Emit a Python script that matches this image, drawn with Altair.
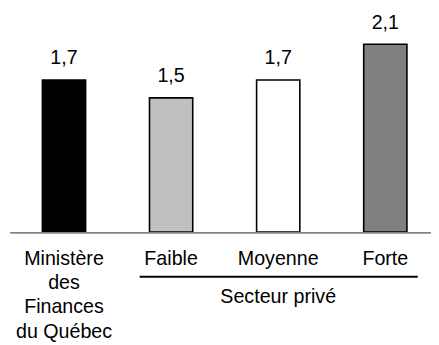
import altair as alt
import pandas as pd

categories = ["MFQ", "Faible", "Moyenne", "Forte"]
cat_labels = ["Ministère\ndes\nFinances\ndu Québec", "Faible", "Moyenne", "Forte"]
values = [1.7, 1.5, 1.7, 2.1]
value_labels = ["1,7", "1,5", "1,7", "2,1"]
colors = ["#000000", "#c0c0c0", "#ffffff", "#808080"]
group_title = "Secteur privé"
group_start = "Faible"
group_end = "Forte"
group_center = "Moyenne"

FONT = "Liberation Sans"
FS = 20

df = pd.DataFrame({"cat": categories, "value": values, "vlabel": value_labels, "clabel": cat_labels})
grp = pd.DataFrame({"start": [group_start], "end": [group_end], "mid": [group_center], "title": [group_title]})

xscale = alt.Scale(domain=categories, range=[0, 436], paddingInner=0, paddingOuter=0)
yscale = alt.Scale(domain=[0, 220 / 91], nice=False, zero=True)

base = alt.Chart(df)

bars = base.mark_bar(width=44, stroke="black", strokeWidth=1.6).encode(
    x=alt.X("cat:N", scale=xscale, axis=None, sort=categories),
    y=alt.Y("value:Q", scale=yscale, axis=None),
    fill=alt.Fill("cat:N", scale=alt.Scale(domain=categories, range=colors), legend=None),
)

vtext = base.mark_text(dy=-16, baseline="alphabetic", fontSize=FS, font=FONT, color="black").encode(
    x=alt.X("cat:N", scale=xscale, axis=None, sort=categories),
    y=alt.Y("value:Q", scale=yscale, axis=None),
    text="vlabel:N",
)

ctext = base.mark_text(baseline="alphabetic", fontSize=FS, font=FONT, color="black",
                       lineBreak="\n", lineHeight=24.6).encode(
    x=alt.X("cat:N", scale=xscale, axis=None, sort=categories),
    y=alt.value(253.7),
    text="clabel:N",
)

axis_rule = base.mark_rule(color="#808080", strokeWidth=1.3).encode(
    x=alt.value(0), x2=alt.value(428.5), y=alt.value(220.7)
)

gbase = alt.Chart(grp)
underline = gbase.mark_rule(color="black", strokeWidth=2, xOffset=-32, x2Offset=33).encode(
    x=alt.X("start:N", scale=xscale, axis=None),
    x2="end:N",
    y=alt.value(265.5),
)
gtext = gbase.mark_text(baseline="alphabetic", fontSize=FS, font=FONT, color="black").encode(
    x=alt.X("mid:N", scale=xscale, axis=None),
    y=alt.value(292),
    text="title:N",
)

chart = alt.layer(bars, vtext, ctext, axis_rule, underline, gtext).properties(
    width=428, height=220,
    autosize="none",
    padding={"left": 2.5, "top": 5, "right": 0, "bottom": 112},
).configure_view(stroke=None)

chart.save("out.html", embed_options={"renderer": "svg", "actions": False})
